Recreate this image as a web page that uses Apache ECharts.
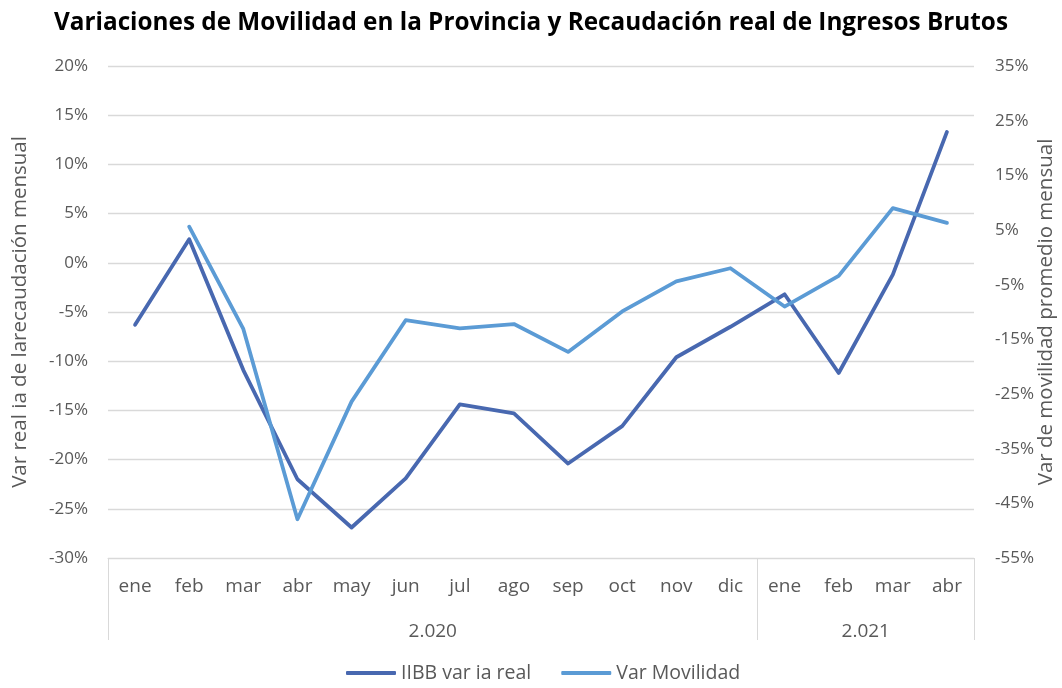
<!DOCTYPE html>
<html>
<head>
<meta charset="utf-8">
<script src="https://cdn.jsdelivr.net/npm/echarts@6/dist/echarts.min.js"></script>
<style>html,body{margin:0;padding:0;background:#fff;}#c{width:1062px;height:688px;}</style>
</head>
<body>
<div id="c"></div>
<script>
const months = ['ene','feb','mar','abr','may','jun','jul','ago','sep','oct','nov','dic','ene','feb','mar','abr'];
const years = ['2.020','2.021'];
const yearSizes = [12, 4];
const iibb = [-6.3, 2.4, -10.9, -22.0, -26.9, -21.9, -14.4, -15.3, -20.4, -16.6, -9.6, -6.5, -3.2, -11.2, -1.2, 13.3];
const movilidad = [null, 5.6, -13.1, -47.9, -26.4, -11.5, -13.0, -12.2, -17.3, -9.9, -4.4, -2.0, -9.0, -3.4, 9.0, 6.3];
const leftTicks = {min: -30, max: 20, step: 5};
const rightTicks = {min: -55, max: 35, step: 10};

// year-level axis: boundaries 0..N, labels at group centres
const boundaryCats = [];
const groupBounds = [0];
let acc = 0;
yearSizes.forEach(s => { acc += s; groupBounds.push(acc); });
for (let i = 0; i <= months.length; i++) boundaryCats.push('');
yearSizes.forEach((s, g) => {
  boundaryCats[groupBounds[g] + s / 2] = years[g];
});

const FONT = 'Open Sans';
const GRAY = '#595959';
const chart = echarts.init(document.getElementById('c'));
chart.setOption({
  animation: false,
  textStyle: {fontFamily: FONT},
  title: {
    text: 'Variaciones de Movilidad en la Provincia y Recaudación real de Ingresos Brutos',
    left: 'center', top: 6,
    textStyle: {fontFamily: FONT, fontSize: 24.3, fontWeight: 'bold', color: '#000'}
  },
  legend: {
    bottom: 0, left: 341, itemWidth: 50, itemHeight: 4, itemGap: 30,
    icon: 'roundRect',
    textStyle: {fontFamily: FONT, fontSize: 19.5, color: GRAY},
    data: ['IIBB var ia real', 'Var Movilidad']
  },
  grid: {left: 108, right: 88, top: 66, bottom: 130, containLabel: false, outerBoundsMode: 'none'},
  xAxis: [
    {
      type: 'category', data: months, boundaryGap: true,
      axisLine: {onZero: false, lineStyle: {color: '#d9d9d9', width: 1}},
      axisTick: {show: false},
      axisLabel: {interval: 0, margin: 19, fontSize: 19, color: GRAY, fontFamily: FONT}
    },
    {
      type: 'category', data: boundaryCats, boundaryGap: false, position: 'bottom',
      axisLine: {show: false, onZero: false},
      axisTick: {show: true, length: 82, interval: (i) => groupBounds.indexOf(i) >= 0,
        lineStyle: {color: '#d9d9d9', width: 1}},
      axisLabel: {interval: 0, margin: 64, fontSize: 19, color: GRAY, fontFamily: FONT},
      splitLine: {show: false}
    }
  ],
  yAxis: [
    {
      type: 'value', min: leftTicks.min, max: leftTicks.max, interval: leftTicks.step,
      name: 'Var real ia de larecaudación mensual', nameLocation: 'middle', nameGap: 77,
      nameMoveOverlap: false,
      nameTextStyle: {fontSize: 20.5, color: GRAY, fontFamily: FONT},
      axisLine: {show: false}, axisTick: {show: false},
      axisLabel: {formatter: '{value}%', fontSize: 17, color: GRAY, margin: 20, fontFamily: FONT},
      splitLine: {lineStyle: {color: '#d9d9d9', width: 1.3}}
    },
    {
      type: 'value', min: rightTicks.min, max: rightTicks.max, interval: 5,
      name: 'Var de movilidad promedio mensual', nameLocation: 'middle', nameGap: 62,
      nameMoveOverlap: false,
      nameTextStyle: {fontSize: 20.5, color: GRAY, fontFamily: FONT},
      axisLine: {show: false}, axisTick: {show: false},
      axisLabel: {
        formatter: v => ((Math.round(v - rightTicks.min) % rightTicks.step) === 0 ? v + '%' : ''),
        fontSize: 17, color: GRAY, margin: 21, fontFamily: FONT
      },
      splitLine: {show: false}
    }
  ],
  series: [
    {
      name: 'IIBB var ia real', type: 'line', xAxisIndex: 0, yAxisIndex: 0,
      data: iibb, symbol: 'none', color: '#4868b0',
      lineStyle: {width: 3.8, color: '#4868b0', cap: 'round', join: 'round'}
    },
    {
      name: 'Var Movilidad', type: 'line', xAxisIndex: 0, yAxisIndex: 1,
      data: movilidad, symbol: 'none', color: '#5b9bd5', connectNulls: false,
      lineStyle: {width: 3.8, color: '#5b9bd5', cap: 'round', join: 'round'}
    }
  ]
});
</script>
</body>
</html>
